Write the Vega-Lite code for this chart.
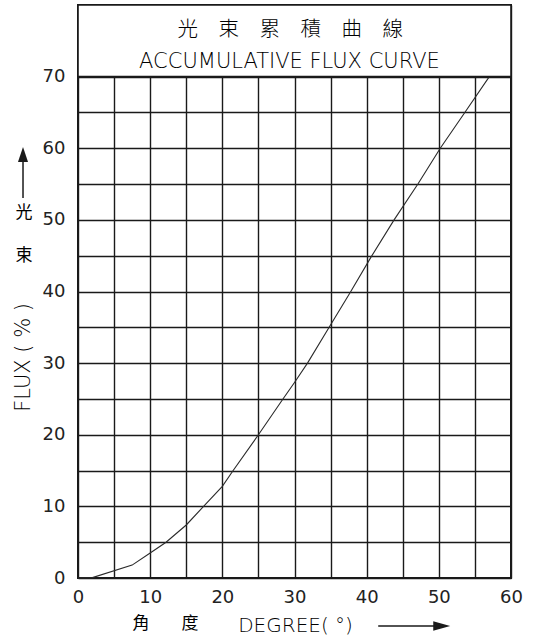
{
  "$schema": "https://vega.github.io/schema/vega-lite/v6.json",
  "width": 433,
  "height": 573,
  "autosize": {"type": "none"},
  "padding": {"left": 78, "top": 5, "right": 33, "bottom": 64},
  "background": "white",
  "config": {
    "view": {"stroke": "#1a1a1a", "strokeWidth": 2},
    "font": "DejaVu Sans",
    "text": {"color": "#000000"}
  },
  "datasets": {
    "curve": [
      {"deg": 0, "flux": 0},
      {"deg": 2, "flux": 0.05},
      {"deg": 7.5, "flux": 1.8},
      {"deg": 10, "flux": 3.5},
      {"deg": 12.2, "flux": 5},
      {"deg": 15, "flux": 7.4},
      {"deg": 17.4, "flux": 10},
      {"deg": 20, "flux": 12.8},
      {"deg": 21.5, "flux": 15},
      {"deg": 25, "flux": 20},
      {"deg": 28.4, "flux": 25},
      {"deg": 30, "flux": 27.3},
      {"deg": 31.8, "flux": 30},
      {"deg": 34.8, "flux": 35},
      {"deg": 37.8, "flux": 40},
      {"deg": 40.6, "flux": 44.8},
      {"deg": 43.8, "flux": 50},
      {"deg": 47.1, "flux": 55},
      {"deg": 50.2, "flux": 60},
      {"deg": 53.6, "flux": 65},
      {"deg": 57, "flux": 70}
    ],
    "one": [{}]
  },
  "layer": [
    {
      "data": {"name": "curve"},
      "mark": {"type": "line", "color": "#2a2a2a", "strokeWidth": 1.1},
      "encoding": {
        "x": {
          "field": "deg", "type": "quantitative",
          "scale": {"domain": [0, 60], "nice": false, "zero": false},
          "axis": {
            "title": null,
            "values": [0, 5, 10, 15, 20, 25, 30, 35, 40, 45, 50, 55, 60],
            "tickCount": 30,
            "labelExpr": "datum.value % 10 === 0 ? datum.label : ''",
            "grid": true, "gridColor": "#1a1a1a", "gridWidth": 1.4, "gridOpacity": 1,
            "ticks": false, "domain": false,
            "labelFontSize": 18, "labelColor": "#222", "labelPadding": 10,
            "labelFont": "DejaVu Sans", "labelFlush": false, "labelOverlap": false
          }
        },
        "y": {
          "field": "flux", "type": "quantitative",
          "scale": {"domain": [0, 80], "nice": false, "zero": false},
          "axis": {
            "title": null,
            "values": [0, 5, 10, 15, 20, 25, 30, 35, 40, 45, 50, 55, 60, 65, 70],
            "tickCount": 30,
            "labelExpr": "datum.value % 10 === 0 ? datum.label : ''",
            "grid": true, "gridColor": "#1a1a1a", "gridWidth": 1.4, "gridOpacity": 1,
            "ticks": false, "domain": false,
            "labelFontSize": 18, "labelColor": "#222", "labelPadding": 13,
            "labelFont": "DejaVu Sans", "labelFlush": false, "labelOverlap": false
          }
        }
      }
    },
    {
      "data": {"name": "one"},
      "mark": {"type": "rect", "fill": "white", "stroke": "#1a1a1a", "strokeWidth": 1.6},
      "encoding": {
        "x": {"datum": 0, "type": "quantitative"},
        "x2": {"datum": 60},
        "y": {"datum": 70, "type": "quantitative"},
        "y2": {"datum": 80}
      }
    },
    {
      "data": {"name": "one"},
      "mark": {"type": "text", "font": "Noto Sans CJK TC", "fontSize": 20.5, "fontWeight": 300, "align": "center", "baseline": "middle"},
      "encoding": {
        "x": {"datum": 29.4, "type": "quantitative"},
        "y": {"datum": 76.5, "type": "quantitative"},
        "text": {"value": "光　束　累　積　曲　線"}
      }
    },
    {
      "data": {"name": "one"},
      "mark": {"type": "text", "font": "DejaVu Sans", "fontSize": 21, "fontWeight": 200, "align": "center", "baseline": "alphabetic"},
      "encoding": {
        "x": {"datum": 29.3, "type": "quantitative"},
        "y": {"datum": 71.2, "type": "quantitative"},
        "text": {"value": "ACCUMULATIVE FLUX CURVE"}
      }
    },
    {
      "data": {"name": "one"},
      "mark": {"type": "text", "font": "DejaVu Sans", "fontSize": 21, "fontWeight": 200, "align": "center", "baseline": "alphabetic", "angle": 270},
      "encoding": {
        "x": {"datum": -6.65, "type": "quantitative"},
        "y": {"datum": 30.8, "type": "quantitative"},
        "text": {"value": "FLUX  ( % )"}
      }
    },
    {
      "data": {"name": "one"},
      "mark": {"type": "text", "font": "Noto Sans CJK TC", "fontSize": 17, "align": "center", "baseline": "middle"},
      "encoding": {
        "x": {"datum": -7.48, "type": "quantitative"},
        "y": {"datum": 51, "type": "quantitative"},
        "text": {"value": "光"}
      }
    },
    {
      "data": {"name": "one"},
      "mark": {"type": "text", "font": "Noto Sans CJK TC", "fontSize": 17, "align": "center", "baseline": "middle"},
      "encoding": {
        "x": {"datum": -7.48, "type": "quantitative"},
        "y": {"datum": 45, "type": "quantitative"},
        "text": {"value": "束"}
      }
    },
    {
      "data": {"name": "one"},
      "mark": {"type": "rule", "color": "#1a1a1a", "strokeWidth": 1.5},
      "encoding": {
        "x": {"datum": -7.62, "type": "quantitative"},
        "y": {"datum": 53.05, "type": "quantitative"},
        "y2": {"datum": 59}
      }
    },
    {
      "data": {"name": "one"},
      "mark": {"type": "point", "shape": "M0,-1L0.67,1L-0.67,1Z", "size": 225, "filled": true, "color": "#1a1a1a", "opacity": 1},
      "encoding": {
        "x": {"datum": -7.62, "type": "quantitative"},
        "y": {"datum": 59.13, "type": "quantitative"}
      }
    },
    {
      "data": {"name": "one"},
      "mark": {"type": "text", "font": "Noto Sans CJK TC", "fontSize": 17, "align": "center", "baseline": "middle"},
      "encoding": {
        "x": {"datum": 8.73, "type": "quantitative"},
        "y": {"datum": -6.42, "type": "quantitative"},
        "text": {"value": "角"}
      }
    },
    {
      "data": {"name": "one"},
      "mark": {"type": "text", "font": "Noto Sans CJK TC", "fontSize": 17, "align": "center", "baseline": "middle"},
      "encoding": {
        "x": {"datum": 15.52, "type": "quantitative"},
        "y": {"datum": -6.42, "type": "quantitative"},
        "text": {"value": "度"}
      }
    },
    {
      "data": {"name": "one"},
      "mark": {"type": "text", "font": "DejaVu Sans", "fontSize": 20, "fontWeight": 200, "align": "left", "baseline": "alphabetic"},
      "encoding": {
        "x": {"datum": 22.2, "type": "quantitative"},
        "y": {"datum": -7.54, "type": "quantitative"},
        "text": {"value": "DEGREE( °)"}
      }
    },
    {
      "data": {"name": "one"},
      "mark": {"type": "rule", "color": "#1a1a1a", "strokeWidth": 1.5},
      "encoding": {
        "x": {"datum": 41.6, "type": "quantitative"},
        "x2": {"datum": 50.4},
        "y": {"datum": -6.7, "type": "quantitative"}
      }
    },
    {
      "data": {"name": "one"},
      "mark": {"type": "point", "shape": "M1,0L-1,-0.55L-1,0.55Z", "size": 289, "filled": true, "color": "#1a1a1a", "opacity": 1},
      "encoding": {
        "x": {"datum": 50.4, "type": "quantitative"},
        "y": {"datum": -6.7, "type": "quantitative"}
      }
    }
  ]
}
